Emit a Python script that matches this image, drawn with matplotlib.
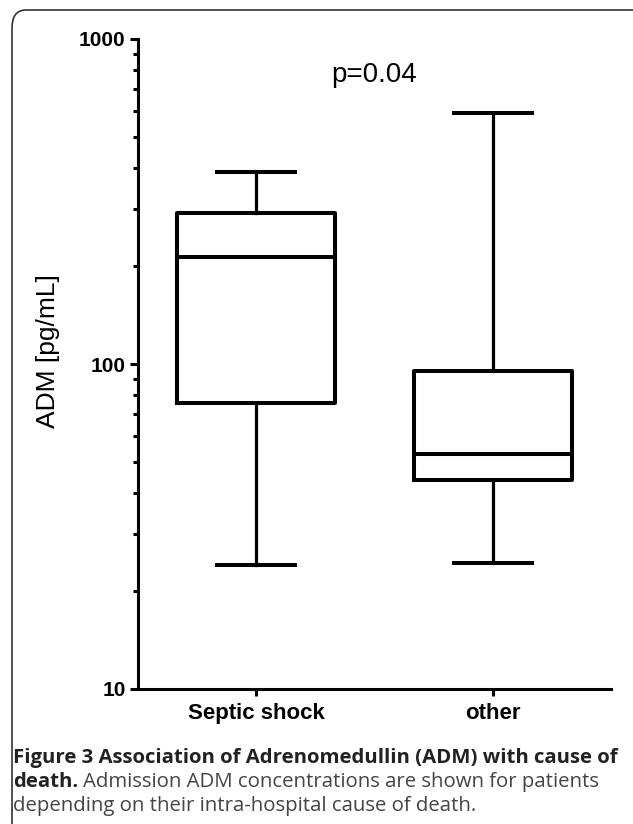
import matplotlib
matplotlib.use("Agg")
import matplotlib.pyplot as plt
from matplotlib.patches import FancyBboxPatch
from matplotlib.ticker import LogLocator, NullFormatter, FixedLocator

# data (pg/mL)
groups = ["Septic shock", "other"]
whisker_low = [24, 24.5]
q1 = [76, 44]
median = [214, 53]
q3 = [291, 95]
whisker_high = [389, 592]
y_ticks = [10, 100, 1000]
p_text = "p=0.04"

W, H = 633, 824
fig = plt.figure(figsize=(W / 100, H / 100), dpi=100)

# rounded frame around the figure panel
frame = FancyBboxPatch((12 / W, -20 / H), 650 / W, (H - 10 + 20) / H,
                       boxstyle="round,pad=0,rounding_size=0.022",
                       transform=fig.transFigure, fill=False,
                       edgecolor="#333333", linewidth=1.2)
fig.patches.append(frame)

ax = fig.add_axes([138 / W, 1 - 689 / H, (611 - 138) / W, (689 - 39) / H])

stats = []
for i in range(len(groups)):
    stats.append({"label": groups[i], "whislo": whisker_low[i], "q1": q1[i],
                  "med": median[i], "q3": q3[i], "whishi": whisker_high[i],
                  "fliers": []})

ax.bxp(stats, positions=[1, 2], widths=0.67, capwidths=0.33, showfliers=False,
       boxprops=dict(color="black", linewidth=2.9),
       medianprops=dict(color="black", linewidth=2.9),
       whiskerprops=dict(color="black", linewidth=2.3),
       capprops=dict(color="black", linewidth=2.9))

ax.set_yscale("log")
ax.set_ylim(10, 1000)
ax.set_xlim(0.5, 2.5)

ax.spines["top"].set_visible(False)
ax.spines["right"].set_visible(False)
for s in ["left", "bottom"]:
    ax.spines[s].set_linewidth(2.2)

ax.yaxis.set_major_locator(FixedLocator(y_ticks))
ax.set_yticklabels([str(v) for v in y_ticks])
ax.yaxis.set_minor_locator(LogLocator(base=10, subs=range(2, 10)))
ax.yaxis.set_minor_formatter(NullFormatter())
ax.tick_params(axis="y", which="major", length=6, width=2.2, direction="out",
               labelsize=15, pad=3)
ax.tick_params(axis="y", which="minor", length=3.5, width=2.2, direction="out")
ax.tick_params(axis="x", which="major", length=5, width=2.2, direction="out",
               pad=5)
for lab in ax.get_yticklabels():
    lab.set_fontfamily("Liberation Sans")
    lab.set_fontweight("bold")
ax.set_xticks([1, 2])
ax.set_xticklabels(groups, fontfamily="Liberation Sans", fontweight="bold", fontsize=16)

ax.set_ylabel("ADM [pg/mL]", fontfamily="Liberation Sans", fontsize=19)
ax.yaxis.set_label_coords(-0.165, 0.52)

ax.text(1.5, 1 - 36 / 650, p_text, transform=ax.get_xaxis_transform(), ha="center",
        va="center", fontfamily="Liberation Sans", fontsize=20)

# caption
cap_font = "Open Sans"
cap_size = 14.7
fig.text(13 / W, 1 - 758 / H, "Figure 3 Association of Adrenomedullin (ADM) with cause of",
         fontfamily=cap_font, fontweight="bold", fontsize=cap_size, color="#222222", va="center")
t_bold = fig.text(13 / W, 1 - 782 / H, "death.", fontfamily=cap_font, fontweight="bold",
                  fontsize=cap_size, color="#222222", va="center")
r = fig.canvas.get_renderer()
bb = t_bold.get_window_extent(r)
fig.text((bb.x1 + 5) / W, 1 - 782 / H, "Admission ADM concentrations are shown for patients",
         fontfamily=cap_font, fontsize=cap_size, color="#444444", va="center")
fig.text(13 / W, 1 - 806 / H, "depending on their intra-hospital cause of death.",
         fontfamily=cap_font, fontsize=cap_size, color="#444444", va="center")

fig.savefig("out.png", dpi=100)
